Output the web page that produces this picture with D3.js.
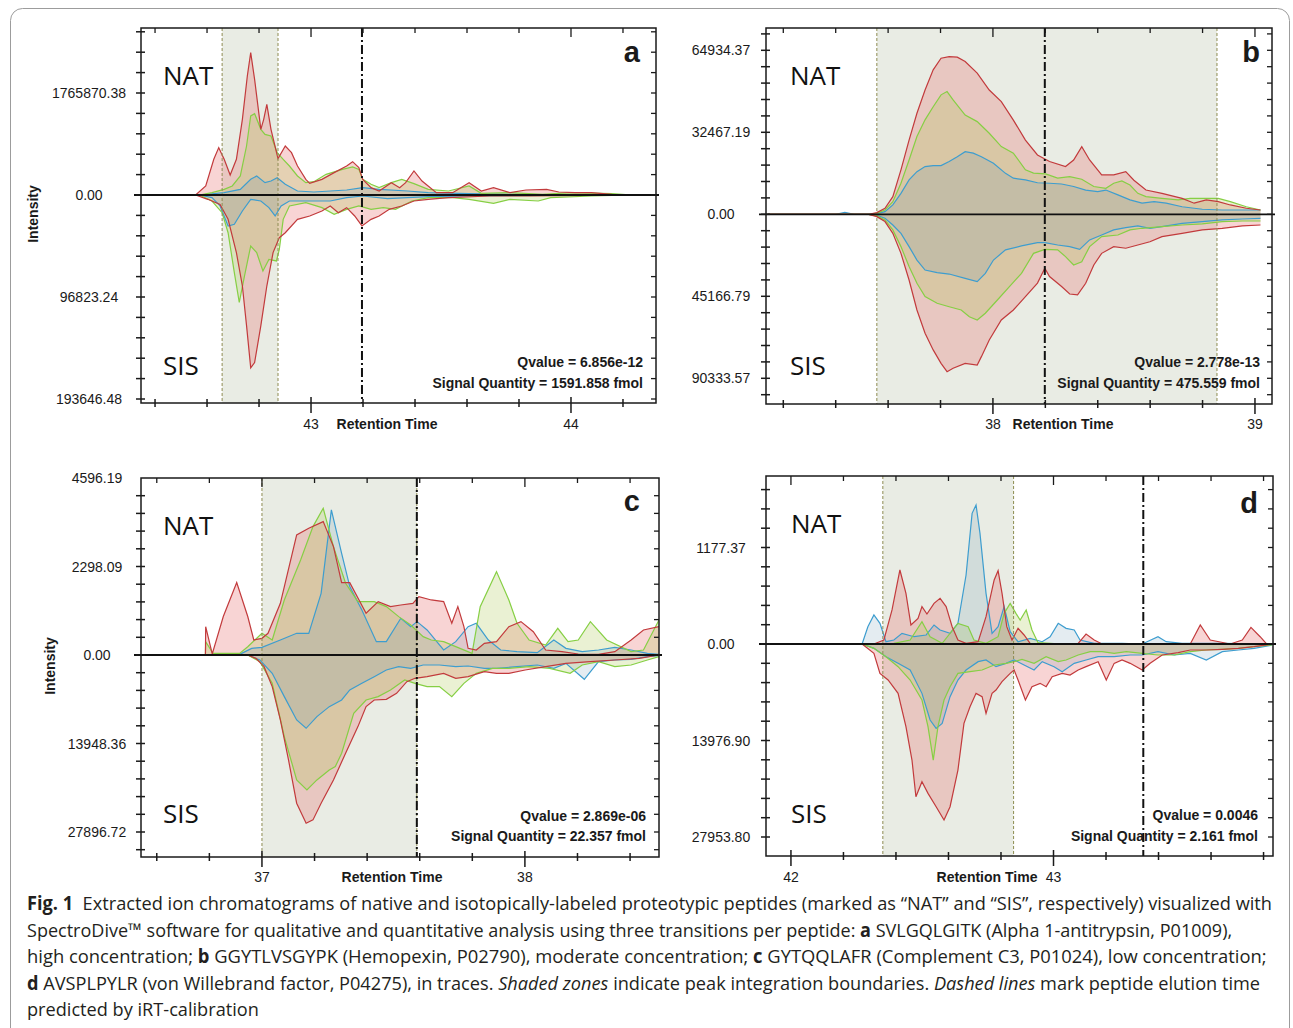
<!DOCTYPE html>
<html>
<head>
<meta charset="utf-8">
<script src="https://cdn.jsdelivr.net/npm/d3@7"></script>
<style>
  body { margin: 0; background: #fff; }
  svg text { font-family: "Liberation Sans", Arial, sans-serif; fill: #1a1a1a; }
  .tick { font-size: 14px; }
  .bold { font-weight: bold; }
  .tag { font-family: "Open Sans", "Noto Sans", sans-serif !important; font-size: 26px; fill: #111; }
  .caption { font-family: "Open Sans", "Noto Sans", sans-serif !important; font-size: 19px; fill: #231f20; }
</style>
</head>
<body>
<svg id="fig" width="1293" height="1028"></svg>
<script>
// ---- panel a: SVLGQLGITK (values are [retention time, intensity]) ----
const aRT = [42.346, 44.327];
const aShade = [42.658, 42.873];
const aPredicted = 43.196;
const aNatTicks = [1765870.38];
const aSisTicks = [96823.24, 193646.48];
const aNatRed = [[42.556,0],[42.595,156000],[42.626,618000],[42.645,820000],[42.666,618000],[42.689,346000],[42.713,618000],[42.736,1310000],[42.755,2060000],[42.768,2464000],[42.783,2003000],[42.807,1137000],[42.818,1310000],[42.830,1570000],[42.846,1137000],[42.873,629000],[42.901,848000],[42.925,733000],[42.948,502000],[42.980,271000],[42.995,202000],[43.042,271000],[43.089,387000],[43.137,502000],[43.160,577000],[43.184,473000],[43.199,271000],[43.231,127000],[43.262,69000],[43.309,214000],[43.341,127000],[43.364,214000],[43.396,416000],[43.427,242000],[43.482,40000],[43.545,40000],[43.608,214000],[43.655,69000],[43.702,127000],[43.765,40000],[43.827,87000],[43.906,98000],[43.953,52000],[44.016,40000],[44.078,40000],[44.157,12000],[44.267,0]];
const aNatGreen = [[42.571,0],[42.619,40000],[42.666,98000],[42.697,156000],[42.728,329000],[42.752,848000],[42.768,1368000],[42.783,1408000],[42.807,1137000],[42.823,1050000],[42.846,1021000],[42.870,733000],[42.893,618000],[42.917,502000],[42.948,329000],[42.980,214000],[43.011,231000],[43.058,358000],[43.121,444000],[43.160,485000],[43.184,444000],[43.199,271000],[43.231,185000],[43.262,127000],[43.309,214000],[43.349,271000],[43.396,196000],[43.451,98000],[43.529,69000],[43.608,156000],[43.655,29000],[43.765,40000],[43.890,12000],[44.000,40000],[44.157,23000],[44.236,0]];
const aNatBlue = [[42.571,0],[42.666,40000],[42.728,98000],[42.768,271000],[42.791,329000],[42.823,214000],[42.846,242000],[42.870,300000],[42.901,185000],[42.948,69000],[43.011,52000],[43.137,87000],[43.199,127000],[43.262,98000],[43.372,69000],[43.451,40000],[43.608,23000],[43.765,12000],[44.236,0]];
const aSisRed = [[42.556,0],[42.603,4100],[42.650,8900],[42.681,23100],[42.713,54700],[42.736,86400],[42.752,124000],[42.768,164000],[42.783,159000],[42.807,124000],[42.830,86400],[42.854,54700],[42.878,40500],[42.901,35800],[42.948,23100],[42.995,19900],[43.042,15200],[43.074,10400],[43.105,16800],[43.137,12000],[43.168,19900],[43.196,29400],[43.231,23100],[43.262,19900],[43.301,13600],[43.349,10400],[43.396,5700],[43.451,4100],[43.529,2500],[43.686,950],[43.843,950],[44.267,0]];
const aSisGreen = [[42.571,0],[42.619,5700],[42.658,16800],[42.681,35800],[42.705,73700],[42.724,102000],[42.744,76900],[42.768,48400],[42.791,54700],[42.815,72100],[42.838,61100],[42.867,62600],[42.878,51600],[42.893,23100],[42.917,10400],[42.980,7300],[43.042,12000],[43.089,18400],[43.137,13600],[43.184,10400],[43.231,13600],[43.278,12000],[43.325,13600],[43.388,5700],[43.451,2500],[43.545,2500],[43.608,4100],[43.702,7900],[43.765,4100],[43.874,5700],[43.922,2500],[44.078,950],[44.236,0]];
const aSisBlue = [[42.571,0],[42.619,2500],[42.650,10400],[42.681,29400],[42.705,27800],[42.736,15200],[42.768,4100],[42.807,5700],[42.838,12000],[42.862,19900],[42.885,10400],[42.917,5700],[42.980,5700],[43.074,5700],[43.137,2500],[43.199,950],[43.294,3500],[43.372,2500],[43.451,1600],[43.608,950],[44.236,0]];

// ---- panel b: GGYTLVSGYPK ----
const bRT = [37.134, 39.065];
const bShade = [37.557, 38.855];
const bPredicted = 38.198;
const bNatTicks = [32467.19, 64934.37];
const bSisTicks = [45166.79, 90333.57];
const bNatRed = [[37.14,0],[37.526,0],[37.557,660],[37.588,2380],[37.618,7000],[37.649,17600],[37.680,29400],[37.710,40000],[37.741,49200],[37.772,57200],[37.802,61800],[37.833,62400],[37.864,62200],[37.894,60500],[37.940,55900],[37.986,49200],[38.032,44600],[38.078,37300],[38.124,29400],[38.170,23500],[38.216,20900],[38.277,18900],[38.308,21500],[38.339,26800],[38.369,21500],[38.415,15600],[38.461,15600],[38.507,16900],[38.538,13500],[38.584,9600],[38.645,8300],[38.722,6300],[38.768,4400],[38.814,5700],[38.860,5000],[38.906,3700],[38.967,2400],[39.021,1700]];
const bNatGreen = [[37.14,0],[37.526,0],[37.557,400],[37.588,1700],[37.618,5000],[37.649,12300],[37.680,21500],[37.710,30800],[37.741,37400],[37.772,42600],[37.802,47300],[37.825,48600],[37.848,45300],[37.894,39300],[37.940,36700],[37.986,32100],[38.032,26800],[38.078,24200],[38.124,17600],[38.155,16300],[38.201,16000],[38.247,14300],[38.293,14900],[38.339,13900],[38.385,11000],[38.431,10300],[38.461,12300],[38.492,13200],[38.523,11600],[38.553,8300],[38.584,7000],[38.645,6300],[38.707,5700],[38.753,6300],[38.860,6300],[38.906,5000],[38.967,3000],[39.021,1700]];
const bNatBlue = [[37.14,0],[37.40,0],[37.435,800],[37.47,0],[37.526,0],[37.557,260],[37.588,1060],[37.618,3700],[37.649,8300],[37.680,13600],[37.710,16900],[37.741,18900],[37.772,19300],[37.802,19300],[37.833,20900],[37.864,22800],[37.894,24800],[37.925,24200],[37.956,22800],[38.002,20200],[38.048,16200],[38.078,14300],[38.124,13600],[38.170,12500],[38.216,12300],[38.262,12000],[38.308,11000],[38.354,9600],[38.400,9000],[38.431,9600],[38.477,7700],[38.523,5700],[38.569,4400],[38.615,5000],[38.661,4400],[38.722,3000],[38.799,2000],[38.875,1700],[39.021,1700]];
const bSisRed = [[37.14,0],[37.526,0],[37.557,1300],[37.588,4000],[37.618,10500],[37.649,21500],[37.680,36200],[37.710,52700],[37.741,65500],[37.772,74700],[37.802,82100],[37.825,86700],[37.848,84800],[37.894,82100],[37.940,83000],[37.956,78400],[37.986,69200],[38.032,58200],[38.078,52700],[38.124,45300],[38.170,37900],[38.198,29700],[38.216,34300],[38.262,39800],[38.293,43900],[38.323,44400],[38.354,38000],[38.385,27900],[38.415,21500],[38.461,17800],[38.507,18700],[38.553,16900],[38.599,15100],[38.645,12300],[38.722,10500],[38.799,8600],[38.875,7700],[38.952,6400],[39.021,5900]];
const bSisGreen = [[37.14,0],[37.526,0],[37.557,900],[37.588,3100],[37.618,8600],[37.649,17800],[37.680,28800],[37.710,38000],[37.741,45300],[37.787,49000],[37.833,50900],[37.879,52700],[37.910,56400],[37.940,58200],[37.971,54500],[38.017,47200],[38.063,39800],[38.109,32500],[38.155,21500],[38.198,19300],[38.247,19600],[38.277,23300],[38.308,27900],[38.339,26100],[38.369,17800],[38.415,12300],[38.477,11400],[38.523,8600],[38.569,7700],[38.645,6800],[38.722,5900],[38.799,5300],[38.875,4000],[38.952,3700],[39.021,3700]];
const bSisBlue = [[37.14,0],[37.526,0],[37.557,550],[37.588,2200],[37.618,5900],[37.649,10500],[37.680,17800],[37.710,25200],[37.741,30700],[37.787,32100],[37.833,32900],[37.894,35300],[37.940,37100],[37.971,32500],[38.002,25200],[38.048,19600],[38.109,17400],[38.170,15600],[38.198,15600],[38.247,16900],[38.293,17800],[38.331,19300],[38.369,14100],[38.415,11400],[38.461,8600],[38.507,7300],[38.553,6400],[38.599,7700],[38.645,6800],[38.722,5000],[38.799,4000],[38.875,3100],[38.952,2600],[39.021,2200]];

// ---- panel c: GYTQQLAFR ----
const cRT = [36.540, 38.510];
const cShade = [37.0, 37.589];
const cPredicted = 37.589;
const cNatTicks = [2298.09, 4596.19];
const cSisTicks = [13948.36, 27896.72];
const cNatRed = [[36.785,0],[36.786,736],[36.811,26],[36.853,1000],[36.904,1879],[36.946,1000],[36.969,390],[37.000,433],[37.023,563],[37.070,1342],[37.132,3118],[37.178,3291],[37.233,3464],[37.272,2815],[37.303,1879],[37.334,1879],[37.396,1083],[37.442,1386],[37.489,1256],[37.528,1299],[37.574,1342],[37.597,1516],[37.644,1429],[37.691,1386],[37.722,823],[37.745,1256],[37.768,736],[37.784,173],[37.815,130],[37.846,303],[37.892,346],[37.939,736],[37.985,866],[38.032,606],[38.079,130],[38.141,87],[38.203,26],[38.280,17],[38.342,87],[38.404,390],[38.451,650],[38.510,736]];
const cNatGreen = [[36.785,0],[36.786,346],[36.814,43],[36.915,43],[36.946,216],[37.000,563],[37.039,390],[37.085,1429],[37.147,2468],[37.194,3334],[37.233,3810],[37.272,2815],[37.318,1862],[37.365,1386],[37.427,1386],[37.473,1256],[37.520,996],[37.566,779],[37.613,476],[37.644,390],[37.691,346],[37.737,217],[37.799,43],[37.830,1256],[37.892,2165],[37.939,1429],[37.970,823],[38.016,390],[38.079,260],[38.125,693],[38.164,346],[38.203,390],[38.249,866],[38.311,390],[38.404,87],[38.451,130],[38.510,909]];
const cNatBlue = [[36.915,17],[36.961,173],[37.000,199],[37.070,390],[37.132,563],[37.178,563],[37.225,1602],[37.264,3767],[37.303,2641],[37.334,1775],[37.380,1169],[37.435,346],[37.473,346],[37.528,953],[37.566,736],[37.590,866],[37.628,650],[37.691,130],[37.737,346],[37.784,736],[37.815,823],[37.861,390],[37.908,130],[37.970,87],[38.047,61],[38.110,390],[38.156,173],[38.218,87],[38.280,130],[38.342,199],[38.404,130],[38.466,43],[38.510,17]];
const cSisRed = [[36.946,0],[36.977,525],[37.008,1838],[37.039,4988],[37.070,10238],[37.101,16538],[37.132,23363],[37.168,26513],[37.194,25988],[37.225,23363],[37.272,19688],[37.318,15488],[37.365,11288],[37.396,8138],[37.427,7088],[37.473,6983],[37.512,6038],[37.551,4200],[37.582,3675],[37.628,3413],[37.691,2888],[37.737,3675],[37.784,3413],[37.846,2625],[37.892,2888],[37.939,2888],[38.001,2363],[38.079,1838],[38.156,1313],[38.249,1050],[38.342,788],[38.435,525],[38.510,0]];
const cSisGreen = [[36.946,0],[36.992,1050],[37.039,4463],[37.085,12863],[37.132,19688],[37.171,21263],[37.209,19688],[37.256,18113],[37.279,17588],[37.303,15488],[37.349,9188],[37.396,7088],[37.442,6563],[37.489,5513],[37.543,3938],[37.582,4463],[37.628,4988],[37.675,4988],[37.722,6563],[37.768,4463],[37.815,2888],[37.877,2100],[37.939,2100],[38.016,1838],[38.094,2100],[38.172,2888],[38.218,1575],[38.280,1050],[38.342,1838],[38.404,1575],[38.466,788],[38.510,263]];
const cSisBlue = [[36.946,0],[36.992,788],[37.039,2888],[37.085,6563],[37.132,10238],[37.168,11550],[37.209,9713],[37.256,8138],[37.303,7088],[37.334,5513],[37.380,4463],[37.427,3413],[37.473,2363],[37.520,1838],[37.566,2100],[37.613,1575],[37.675,1575],[37.737,1838],[37.784,1733],[37.846,2100],[37.892,2100],[37.970,1838],[38.047,1575],[38.110,2100],[38.156,1313],[38.226,3833],[38.280,1050],[38.342,788],[38.404,683],[38.466,263],[38.510,105]];

// ---- panel d: AVSPLPYLR ----
const dRT = [41.905, 43.836];
const dShade = [42.350, 42.848];
const dPredicted = 43.342;
const dNatTicks = [1177.37];
const dSisTicks = [13976.90, 27953.80];
const dNatRed = [[42.179,0],[42.316,0],[42.354,49],[42.385,415],[42.415,903],[42.438,618],[42.457,232],[42.484,313],[42.499,456],[42.518,366],[42.545,496],[42.568,557],[42.591,456],[42.614,211],[42.636,49],[42.667,8],[42.713,28],[42.743,333],[42.774,781],[42.789,895],[42.804,618],[42.822,211],[42.842,49],[42.865,191],[42.888,110],[42.911,8],[42.941,0],[43.094,8],[43.124,122],[43.155,49],[43.185,0],[43.521,0],[43.559,232],[43.597,49],[43.673,0],[43.719,49],[43.752,203],[43.787,89],[43.810,8],[43.833,0]];
const dNatGreen = [[42.179,0],[42.331,0],[42.392,8],[42.454,49],[42.499,272],[42.530,89],[42.576,8],[42.636,252],[42.675,211],[42.697,49],[42.743,8],[42.789,89],[42.812,374],[42.835,496],[42.857,374],[42.873,293],[42.896,415],[42.918,171],[42.941,16],[43.033,0],[43.833,0]];
const dNatBlue = [[42.271,0],[42.293,211],[42.316,354],[42.339,252],[42.362,28],[42.392,49],[42.423,130],[42.469,89],[42.515,110],[42.545,232],[42.568,171],[42.606,130],[42.636,252],[42.667,842],[42.690,1594],[42.705,1696],[42.720,1350],[42.743,618],[42.766,130],[42.789,211],[42.812,456],[42.835,150],[42.865,28],[42.911,69],[42.957,28],[42.987,89],[43.018,252],[43.048,191],[43.079,171],[43.101,49],[43.155,8],[43.261,8],[43.338,0],[43.398,89],[43.429,28],[43.490,8],[43.643,8],[43.833,0]];
const dSisRed = [[42.271,0],[42.316,1352],[42.339,4250],[42.370,5216],[42.408,7148],[42.438,11978],[42.461,16808],[42.476,22121],[42.499,19948],[42.522,21638],[42.553,23570],[42.583,25502],[42.606,23570],[42.636,18257],[42.659,11495],[42.682,9080],[42.705,7148],[42.728,7631],[42.743,10046],[42.766,7148],[42.781,6665],[42.804,5458],[42.835,4250],[42.850,3767],[42.865,5216],[42.893,8114],[42.918,6182],[42.949,5699],[42.972,6182],[42.995,4733],[43.033,4250],[43.063,4492],[43.094,3767],[43.124,3284],[43.170,2560],[43.201,5216],[43.231,2801],[43.261,2318],[43.292,2801],[43.338,3767],[43.368,2801],[43.414,1594],[43.475,1256],[43.521,869],[43.582,869],[43.643,773],[43.704,628],[43.764,386],[43.833,0]];
const dSisGreen = [[42.271,0],[42.316,628],[42.362,1835],[42.408,3284],[42.454,5216],[42.499,8114],[42.522,11978],[42.542,16808],[42.560,11978],[42.583,8114],[42.606,6182],[42.636,4250],[42.682,4009],[42.728,3767],[42.774,3043],[42.819,2801],[42.850,2560],[42.880,2222],[42.926,2801],[42.972,1835],[43.018,2560],[43.048,2318],[43.094,1594],[43.140,1111],[43.185,1111],[43.231,1352],[43.277,1111],[43.338,1352],[43.398,1594],[43.460,1594],[43.521,1111],[43.582,869],[43.643,773],[43.704,628],[43.764,386],[43.833,145]];
const dSisBlue = [[42.271,0],[42.316,628],[42.362,1835],[42.408,2801],[42.454,3767],[42.499,7148],[42.530,11012],[42.553,12220],[42.576,11495],[42.606,7631],[42.636,5216],[42.667,3767],[42.713,2560],[42.743,2318],[42.781,3284],[42.819,2801],[42.850,2318],[42.888,3043],[42.926,3767],[42.957,2560],[43.002,3284],[43.033,4009],[43.079,2801],[43.124,2318],[43.170,1835],[43.231,1835],[43.292,1594],[43.338,1594],[43.398,1111],[43.460,1594],[43.521,1352],[43.582,2318],[43.643,1111],[43.704,869],[43.764,628],[43.833,145]];

const stats = {
  a: ["Qvalue = 6.856e-12", "Signal Quantity = 1591.858 fmol"],
  b: ["Qvalue = 2.778e-13", "Signal Quantity = 475.559 fmol"],
  c: ["Qvalue = 2.869e-06", "Signal Quantity = 22.357 fmol"],
  d: ["Qvalue = 0.0046", "Signal Quantity = 2.161 fmol"]
};

// layout of the four panels (pixel positions only)
const panels = [
  {id: "a", rt: aRT, shade: aShade, pred: aPredicted, natTicks: aNatTicks, sisTicks: aSisTicks,
   nat: [aNatRed, aNatGreen, aNatBlue], sis: [aSisRed, aSisGreen, aSisBlue],
   frame: [141, 656, 28, 403], zeroY: 195, stepPx: 102, labelX: 89, xLabelY: 429, rtLabelX: 387,
   natY: 85, sisY: 375, tagX: 163, letterX: 640, letterY: 62, statX: 643, statY: [367, 388], intensity: [33, 214]},
  {id: "b", rt: bRT, shade: bShade, pred: bPredicted, natTicks: bNatTicks, sisTicks: bSisTicks,
   nat: [bNatRed, bNatGreen, bNatBlue], sis: [bSisRed, bSisGreen, bSisBlue],
   frame: [766, 1272, 28, 404], zeroY: 214.3, stepPx: 82, labelX: 721, xLabelY: 429, rtLabelX: 1063,
   natY: 85, sisY: 375, tagX: 790, letterX: 1260, letterY: 62, statX: 1260, statY: [367, 388], intensity: null},
  {id: "c", rt: cRT, shade: cShade, pred: cPredicted, natTicks: cNatTicks, sisTicks: cSisTicks,
   nat: [cNatRed, cNatGreen, cNatBlue], sis: [cSisRed, cSisGreen, cSisBlue],
   frame: [141, 659, 478, 857], zeroY: 655, stepPx: 88.5, labelX: 97, xLabelY: 882, rtLabelX: 392,
   natY: 535, sisY: 823, tagX: 163, letterX: 640, letterY: 511, statX: 646, statY: [821, 841], intensity: [50, 666]},
  {id: "d", rt: dRT, shade: dShade, pred: dPredicted, natTicks: dNatTicks, sisTicks: dSisTicks,
   nat: [dNatRed, dNatGreen, dNatBlue], sis: [dSisRed, dSisGreen, dSisBlue],
   frame: [766, 1273, 476, 856], zeroY: 644, stepPx: 96.5, labelX: 721, xLabelY: 882, rtLabelX: 987,
   natY: 533, sisY: 823, tagX: 791, letterX: 1258, letterY: 513, statX: 1258, statY: [820, 841], intensity: null}
];

const lineColors = ["#c23a3c", "#86cf44", "#3d9dcf"];
const fillColors = ["rgba(232,112,112,0.30)", "rgba(175,200,85,0.26)", "rgba(95,140,170,0.17)"];

const svg = d3.select("#fig");

// rounded figure border
svg.append("rect")
  .attr("x", 10.5).attr("y", 8.5).attr("width", 1279).attr("height", 1060).attr("rx", 12)
  .attr("fill", "none").attr("stroke", "#9c9c9c").attr("stroke-width", 1);

function drawPanel(p) {
  const [x0, x1, y0, y1] = p.frame;
  const g = svg.append("g").attr("class", "panel-" + p.id);

  const x = d3.scaleLinear().domain(p.rt).range([x0, x1]);
  const yNat = d3.scaleLinear().domain([0, p.natTicks[0]]).range([p.zeroY, p.zeroY - p.stepPx]);
  const ySis = d3.scaleLinear().domain([0, p.sisTicks[0]]).range([p.zeroY, p.zeroY + p.stepPx]);

  // integration zone
  g.append("rect")
    .attr("x", x(p.shade[0])).attr("y", y0)
    .attr("width", x(p.shade[1]) - x(p.shade[0])).attr("height", y1 - y0)
    .attr("fill", "#e9ece4");

  const clipId = "clip-" + p.id;
  svg.append("clipPath").attr("id", clipId)
    .append("rect").attr("x", x0).attr("y", y0).attr("width", x1 - x0).attr("height", y1 - y0);
  const plot = g.append("g").attr("clip-path", `url(#${clipId})`);

  const natArea = d3.area().x(d => x(d[0])).y0(p.zeroY).y1(d => yNat(d[1]));
  const sisArea = d3.area().x(d => x(d[0])).y0(p.zeroY).y1(d => ySis(d[1]));
  const natLine = d3.line().x(d => x(d[0])).y(d => yNat(d[1]));
  const sisLine = d3.line().x(d => x(d[0])).y(d => ySis(d[1]));

  p.nat.forEach((s, i) => plot.append("path").datum(s).attr("d", natArea).attr("fill", fillColors[i]));
  p.sis.forEach((s, i) => plot.append("path").datum(s).attr("d", sisArea).attr("fill", fillColors[i]));
  [2, 1, 0].forEach(i => {
    plot.append("path").datum(p.nat[i]).attr("d", natLine)
      .attr("fill", "none").attr("stroke", lineColors[i]).attr("stroke-width", 1.2);
    plot.append("path").datum(p.sis[i]).attr("d", sisLine)
      .attr("fill", "none").attr("stroke", lineColors[i]).attr("stroke-width", 1.2);
  });

  // integration boundaries
  p.shade.forEach(v => {
    g.append("line").attr("x1", x(v)).attr("x2", x(v)).attr("y1", y0).attr("y2", y1)
      .attr("stroke", "#8e8c52").attr("stroke-width", 1).attr("stroke-dasharray", "3,2");
  });
  // predicted elution time
  g.append("line").attr("x1", x(p.pred)).attr("x2", x(p.pred)).attr("y1", y0).attr("y2", y1)
    .attr("stroke", "#111").attr("stroke-width", 2).attr("stroke-dasharray", "9,3,2,3");

  // zero line
  g.append("line").attr("x1", x0 - 7).attr("x2", x1 + 3).attr("y1", p.zeroY).attr("y2", p.zeroY)
    .attr("stroke", "#111").attr("stroke-width", 1.8);

  // frame
  g.append("rect").attr("x", x0).attr("y", y0).attr("width", x1 - x0).attr("height", y1 - y0)
    .attr("fill", "none").attr("stroke", "#1a1a1a").attr("stroke-width", 1.5);

  // y minor ticks (five per labelled step)
  const natMinor = d3.range(1, 40).map(k => k * p.natTicks[0] / 5).filter(v => yNat(v) >= y0 + 2);
  const sisMinor = d3.range(1, 40).map(k => k * p.sisTicks[0] / 5).filter(v => ySis(v) <= y1 - 1);
  const yTickPos = [p.zeroY].concat(natMinor.map(yNat), sisMinor.map(ySis));
  yTickPos.forEach(yy => {
    g.append("line").attr("x1", x0 - 5).attr("x2", x0 + 4).attr("y1", yy).attr("y2", yy)
      .attr("stroke", "#1a1a1a").attr("stroke-width", 1.5);
    g.append("line").attr("x1", x1 - 5).attr("x2", x1).attr("y1", yy).attr("y2", yy)
      .attr("stroke", "#1a1a1a").attr("stroke-width", 1.3);
  });

  // x ticks every 0.2 min
  const xt = d3.range(Math.ceil(p.rt[0] * 5), Math.floor(p.rt[1] * 5) + 1).map(k => k / 5)
    .filter(v => x(v) > x0 + 8 && x(v) < x1 - 3);
  xt.forEach(v => {
    const major = Math.abs(v - Math.round(v)) < 1e-6;
    g.append("line").attr("x1", x(v)).attr("x2", x(v))
      .attr("y1", major ? y1 - 6 : y1 - 4).attr("y2", major ? y1 + 10 : y1 + 4)
      .attr("stroke", "#1a1a1a").attr("stroke-width", 1.5);
    g.append("line").attr("x1", x(v)).attr("x2", x(v))
      .attr("y1", y0).attr("y2", major ? y0 + 9 : y0 + 5)
      .attr("stroke", "#1a1a1a").attr("stroke-width", 1.3);
    if (major) {
      g.append("text").attr("class", "tick").attr("x", x(v)).attr("y", p.xLabelY)
        .attr("text-anchor", "middle").text(d3.format("d")(v));
    }
  });
  g.append("text").attr("class", "tick bold").attr("x", p.rtLabelX).attr("y", p.xLabelY)
    .attr("text-anchor", "middle").text("Retention Time");

  // y labels
  const fmt = d3.format(".2f");
  g.append("text").attr("class", "tick").attr("x", p.labelX).attr("y", p.zeroY + 5)
    .attr("text-anchor", "middle").text(fmt(0));
  p.natTicks.forEach(v => g.append("text").attr("class", "tick").attr("x", p.labelX).attr("y", yNat(v) + 5)
    .attr("text-anchor", "middle").text(fmt(v)));
  p.sisTicks.forEach(v => g.append("text").attr("class", "tick").attr("x", p.labelX).attr("y", ySis(v) + 5)
    .attr("text-anchor", "middle").text(fmt(v)));

  if (p.intensity) {
    g.append("text").attr("class", "tick bold")
      .attr("transform", `translate(${p.intensity[0] + 5},${p.intensity[1]}) rotate(-90)`)
      .attr("text-anchor", "middle").text("Intensity");
  }

  g.append("text").attr("class", "tag").attr("x", p.tagX).attr("y", p.natY).text("NAT");
  g.append("text").attr("class", "tag").attr("x", p.tagX).attr("y", p.sisY).text("SIS");
  g.append("text").attr("x", p.letterX).attr("y", p.letterY).attr("text-anchor", "end")
    .attr("font-weight", "bold").attr("font-size", 29).text(p.id);

  stats[p.id].forEach((t, i) => {
    g.append("text").attr("class", "tick bold").attr("x", p.statX).attr("y", p.statY[i])
      .attr("text-anchor", "end").text(t);
  });
}

panels.forEach(drawPanel);

// caption: each line is squeezed horizontally to the width it has in the printed figure
const captionLines = [
  [["Fig. 1", "b"], ["  Extracted ion chromatograms of native and isotopically-labeled proteotypic peptides (marked as \u201cNAT\u201d and \u201cSIS\u201d, respectively) visualized with", ""]],
  [["SpectroDive\u2122 software for qualitative and quantitative analysis using three transitions per peptide: ", ""], ["a", "b"], [" SVLGQLGITK (Alpha 1-antitrypsin, P01009),", ""]],
  [["high concentration; ", ""], ["b", "b"], [" GGYTLVSGYPK (Hemopexin, P02790), moderate concentration; ", ""], ["c", "b"], [" GYTQQLAFR (Complement C3, P01024), low concentration;", ""]],
  [["d", "b"], [" AVSPLPYLR (von Willebrand factor, P04275), in traces. ", ""], ["Shaded zones", "i"], [" indicate peak integration boundaries. ", ""], ["Dashed lines", "i"], [" mark peptide elution time", ""]],
  [["predicted by iRT-calibration", ""]]
];
const captionEnds = [1273, 1233, 1267, 1261, 259];
const captionY = [910, 937, 963, 990, 1016];

captionLines.forEach((line, i) => {
  const t = svg.append("text").attr("class", "caption").attr("xml:space", "preserve");
  line.forEach(([s, style]) => {
    const ts = t.append("tspan").text(s);
    if (style === "b") ts.attr("font-weight", "bold");
    if (style === "i") ts.attr("font-style", "italic");
  });
  const w = t.node().getComputedTextLength();
  t.attr("transform", `translate(27,${captionY[i]}) scale(${(captionEnds[i] - 27) / w},1)`);
});
</script>
</body>
</html>
